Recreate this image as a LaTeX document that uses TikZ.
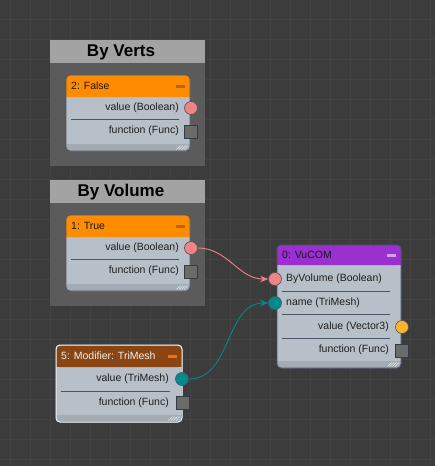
\documentclass[tikz,border=0pt]{standalone}
\usepackage{fontspec}
\setmainfont{Liberation Sans}
\usepackage{tikz}
\usetikzlibrary{arrows.meta,positioning}
\definecolor{canvasbg}{HTML}{3C3C3C}
\definecolor{canvasgrid}{HTML}{434343}
\definecolor{grouphead}{HTML}{A3A3A3}
\definecolor{groupbody}{HTML}{5B5B5B}
\definecolor{cardbody}{HTML}{B7BFC8}
\definecolor{cardfoot}{HTML}{A3ABB5}
\definecolor{cardedge}{HTML}{4A5464}
\definecolor{boolorange}{HTML}{FF8C00}
\definecolor{vucpurple}{HTML}{9A30CF}
\definecolor{modbrown}{HTML}{8B4513}
\definecolor{pinpink}{HTML}{F08484}
\definecolor{pinteal}{HTML}{008B8B}
\definecolor{pinvec}{HTML}{FFB22E}
\definecolor{pinfunc}{HTML}{6B6B6B}

\begin{document}
\begin{tikzpicture}[
  x=1pt,y=-1pt,
  font=\fontsize{10.5}{12}\selectfont,
  gridline/.style={draw=canvasgrid,line width=0.8pt},
  grouptitle/.style={font=\fontsize{17}{19}\selectfont\bfseries,text=black,inner sep=0pt},
  cardtitle/.style={anchor=west,inner sep=0pt,text=black!90},
  rowtext/.style={inner sep=0pt,text=black!88},
  rowline/.style={draw=cardedge,line width=0.8pt},
  pin/.style={circle,draw=cardedge,line width=0.6pt,minimum size=13pt,inner sep=0pt},
  funcpin/.style={rectangle,draw=cardedge!70!black,fill=pinfunc,line width=0.6pt,minimum size=13pt,inner sep=0pt},
  wire/.style={line width=0.9pt,-{Stealth[length=8pt,width=6.5pt]}}
]
  \fill[canvasbg] (0,0) rectangle (435,466);
  \useasboundingbox (0,0) rectangle (435,466);
  \foreach \gx in {10,30,...,430} \draw[gridline] (\gx,0) -- (\gx,466);
  \foreach \gy in {19,39,...,459} \draw[gridline] (0,\gy) -- (435,\gy);

  % groups
  \fill[groupbody] (50,40) rectangle (205,166);
  \fill[grouphead] (50,40) rectangle (205,63);
  \node[grouptitle] (vertsgroup) at (121,52) {By Verts};
  \fill[groupbody] (50,180) rectangle (205,306);
  \fill[grouphead] (50,180) rectangle (205,203);
  \node[grouptitle] (volumegroup) at (121,192) {By Volume};

  % card backgrounds
  \foreach \cl/\ct/\cr/\cb/\hb/\hc/\mc in {66/75/190/151/97/boolorange/boolorange!72!black,
      66/215/190/291/237/boolorange/boolorange!72!black,
      277/245/401/368/265/vucpurple/vucpurple!45!white,
      56/345/182/422/367/modbrown/orange!85!red} {
    \fill[cardbody,rounded corners=4pt] (\cl,\ct) rectangle (\cr,\cb);
    \fill[cardfoot,rounded corners=4pt] (\cl,\cb-10) rectangle (\cr,\cb);
    \fill[cardbody] (\cl,\cb-10) rectangle (\cr,\cb-7);
    \fill[\hc,rounded corners=4pt] (\cl,\ct) rectangle (\cr,\hb);
    \fill[\hc] (\cl,\hb-6) rectangle (\cr,\hb);
    \fill[\mc] (\cr-14,{(\ct+\hb)/2-1.5}) rectangle (\cr-5,{(\ct+\hb)/2+1.5});
    \foreach \k in {0,2.5,5,7.5}
      \draw[white!75!cardfoot,line width=0.6pt] (\cr-6-\k,\cb-1.5) -- (\cr-2-\k,\cb-5.5);
    \draw[cardedge,line width=0.8pt,rounded corners=4pt] (\cl,\ct) rectangle (\cr,\cb);
  }
  \draw[white,line width=1pt,rounded corners=4pt] (56,345) rectangle (182,422);

  % 2: False
  \node[cardtitle] (falsetitle) at (71,86) {2: False};
  \node[rowtext,anchor=east] (falsevaluetxt) at (179,108) {value (Boolean)};
  \draw[rowline] (71,119) -- (179,119);
  \node[rowtext,anchor=east] (falsefunctxt) at (179,131) {function (Func)};
  \node[pin,fill=pinpink] (falseval) at (191,108) {};
  \node[funcpin] (falsefunc) at (190.5,132) {};

  % 1: True
  \node[cardtitle] (truetitle) at (71,226) {1: True};
  \node[rowtext,anchor=east] (truevaluetxt) at (179,248) {value (Boolean)};
  \draw[rowline] (71,259) -- (179,259);
  \node[rowtext,anchor=east] (truefunctxt) at (179,271) {function (Func)};
  \node[pin,fill=pinpink] (trueval) at (191,248) {};
  \node[funcpin] (truefunc) at (190.5,272) {};

  % 0: VuCOM
  \node[cardtitle] (vuctitle) at (282,255) {0: VuCOM};
  \node[rowtext,anchor=west] (vucbyvoltxt) at (286,279) {ByVolume (Boolean)};
  \draw[rowline] (282,291) -- (390,291);
  \node[rowtext,anchor=west] (vucnametxt) at (286,303) {name (TriMesh)};
  \draw[rowline] (282,314) -- (390,314);
  \node[rowtext,anchor=east] (vucvaluetxt) at (389,327) {value (Vector3)};
  \draw[rowline] (282,338) -- (390,338);
  \node[rowtext,anchor=east] (vucfunctxt) at (389,350) {function (Func)};
  \node[pin,fill=pinpink] (vucbyvol) at (275,279) {};
  \node[pin,fill=pinteal] (vucname) at (275,303) {};
  \node[pin,fill=pinvec] (vucvalue) at (402,327) {};
  \node[funcpin] (vucfunc) at (401.5,351) {};

  % 5: Modifier: TriMesh
  \node[cardtitle,text=white!94!black] (modtitle) at (61,356) {5: Modifier: TriMesh};
  \node[rowtext,anchor=east] (modvaluetxt) at (169,379) {value (TriMesh)};
  \draw[rowline] (61,391) -- (170,391);
  \node[rowtext,anchor=east] (modfunctxt) at (169,403) {function (Func)};
  \node[pin,fill=pinteal] (modvalue) at (182,379) {};
  \node[funcpin] (modfunc) at (182.5,402.5) {};

  % wires
  \draw[wire,draw=pinpink] (trueval) to[out=0,in=180] (vucbyvol);
  \draw[wire,draw=pinteal] (modvalue) to[out=0,in=180] (vucname);
\end{tikzpicture}
\end{document}
